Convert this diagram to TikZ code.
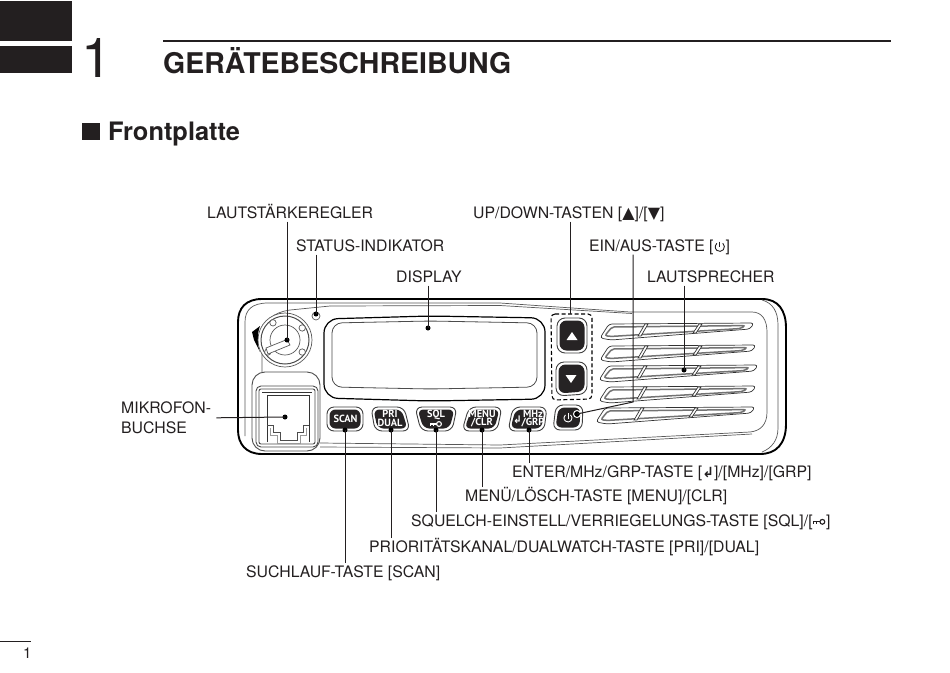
\documentclass[tikz,border=0pt]{standalone}
\usepackage{fontspec}
\setmainfont{TeX Gyre Heros}
\newfontfamily\symfont{DejaVu Sans}
\newfontfamily\btnfont{PT Sans}
\usetikzlibrary{calc}
\definecolor{ink}{HTML}{231F20}
\definecolor{fillk}{HTML}{262324}
\tikzset{
 lab/.style={anchor=west,yshift=-.8pt,inner xsep=0pt,inner ysep=3pt,text height=11pt,text depth=0pt,text=ink,font=\fontsize{15.8}{20}\selectfont},
 dotk/.style={circle,fill=black,inner sep=0pt,minimum size=5pt},
 conn/.style={draw=ink,line width=1pt},
 panel/.style={draw=black!65,line width=.7pt},
 body/.style={draw=black,line width=1.9pt},
 btnouter/.style={draw=black!75,fill=white,line width=.9pt,rounded corners=7pt},
 btninner/.style={fill=fillk,draw=none,rounded corners=6pt},
 btntext/.style={text=white,inner sep=0pt,align=center,font=\btnfont\bfseries\fontsize{10.4}{8.8}\selectfont},
 slot/.style={draw=black!80,line width=.7pt,rounded corners=3pt},
 slotin/.style={draw=black!55,line width=1.5pt,rounded corners=2pt},
}
% tl tr br bl top bottom
\newcommand{\rbtn}[6]{%
 \path[btnouter] (#1,#5)--(#2,#5)--(#3,#6)--(#4,#6)--cycle;
 \path[btninner] (#1+2.5,#5+2.5)--(#2-2.5,#5+2.5)--(#3-2.5,#6-2.5)--(#4+2.5,#6-2.5)--cycle;}
\newcommand{\keyicon}[3]{%
 \draw[#3,line width=1.1pt] (#1+8,#2) circle (2.4pt);
 \draw[#3,line width=1.2pt] (#1-1,#2)--(#1+5.6,#2);
 \draw[#3,line width=1pt] (#1-.5,#2)--(#1-.5,#2+2.4) (#1+2,#2)--(#1+2,#2+2.4);}
% x y radius colour
\newcommand{\powicon}[4]{%
 \draw[#4,line width=1pt] (#1,#2-#3-.6)--(#1,#2+.5);
 \draw[#4,line width=.9pt] ($(#1,#2)+(50:#3 pt)$) arc[start angle=50,end angle=-230,radius=#3 pt];}
\newcommand{\speakerslot}[3]{% x0 y0 width
 \begin{scope}[shift={(#1,#2)}]
  \path[slot] (8,1)--(#3+3,0)--(#3-1,6)--(10,17)--(-1,15)--cycle;
  \path[slotin] (11,4)--(#3-6,2.6)--(#3-10,5.5)--(9,13.5)--(4,12.5)--cycle;
  \draw[black!80,line width=.7pt,fill=white] (44,1)--(47,1)--(40,13)--(37,13)--cycle;
  \draw[black!80,line width=.7pt,fill=white] (98,1)--(101,1)--(95,10)--(92,10)--cycle;
 \end{scope}}
\begin{document}
\begin{tikzpicture}[x=1pt,y=-1pt]
\useasboundingbox (0,0) rectangle (950,672);
% page furniture
\fill[ink] (0,1) rectangle (72,41);
\fill[ink] (0,46) rectangle (72,73);
\node[anchor=base west,inner sep=0pt,text=ink,font=\fontsize{55}{55}\selectfont] (chapno) at (81,77) {1};
\draw[ink,line width=1.8pt] (163,41)--(891,41);
\node[anchor=base west,inner sep=0pt,text=ink,font=\bfseries\fontsize{28.5}{30}\selectfont] (title) at (163,73) {GERÄTEBESCHREIBUNG};
\fill[ink] (82,123) rectangle (100,140);
\node[anchor=base west,inner sep=0pt,text=ink,font=\bfseries\fontsize{25.4}{26}\selectfont] (section) at (108,140) {Frontplatte};
\draw[ink,line width=.8pt] (0,641)--(31,641);
\node[anchor=base west,inner sep=0pt,text=ink,font=\fontsize{15}{15}\selectfont] (pageno) at (23,658) {1};
% body
\path[body,fill=white] (262,299)--(762,299) .. controls (778,299) and (786,310) .. (786,328)
  -- (786,424) .. controls (786,444) and (776,454) .. (760,454) -- (262,454)
  .. controls (246,454) and (238,444) .. (238,430) -- (238,322) .. controls (238,308) and (246,299) .. (262,299) -- cycle;
% bezel lines
\draw[panel] (245,436) -- (245,322) .. controls (245,310) and (252,303) .. (268,303) -- (330,303) -- (500,303) -- (630,312) -- (752,312)
  .. controls (762,312) and (767,320) .. (767,332) -- (767,412) .. controls (767,425) and (760,431) .. (750,432) -- (500,445) -- (320,443);
\draw[panel] (330,306) -- (500,305.5) -- (632,313.5);
\draw[panel] (320,447) -- (500,448) -- (752,434);
\draw[panel] (762,300) .. controls (773,303) and (778,312) .. (778,325) -- (778,428) .. controls (778,440) and (772,448) .. (762,452);
\draw[panel] (262,372) -- (262,335) .. controls (263,320) and (275,312) .. (290,310) -- (330,306);
% wedge
\fill[black] (260,326) -- (252,332) -- (254,340) -- (260,352) .. controls (257,344) and (257,334) .. (260,326) -- cycle;
% knob
\draw[panel,fill=white] (285,340) circle (27pt);
\draw[black!70,line width=1pt,fill=white] (285,340) circle (24pt);
\draw[panel] (285,340) circle (15pt);
\foreach \a in {-35,35,125,215} {\draw[panel,fill=white] ($(285,340)+(\a:21pt)$) circle (3.2pt);}
\draw[panel,fill=white] (266,348)--(287,339.5)--(290,345)--(268,354)--cycle;
% microphone socket
\path[draw=black!70,line width=.9pt,fill=white,rounded corners=13pt] (252,372) rectangle (320,451);
\path[draw=black!70,line width=.9pt,rounded corners=5pt] (256,386) rectangle (318,447);
\path[draw=black!70,line width=.9pt,rounded corners=2pt] (259,389) rectangle (315,444);
\draw[black!80,line width=.9pt] (267,442)--(267,395)--(309,395)--(309,442);
\draw[black!80,line width=.9pt] (262,392)--(312,392);
\draw[black!70,line width=.9pt] (267,425)--(273,425)--(273,432)--(280,432)--(280,440)--(297,440)--(297,432)--(303,432)--(303,425)--(309,425);
\draw[black!40,line width=.9pt] (270,428)--(270,435)--(277,435)--(277,443)--(300,443)--(300,435)--(306,435)--(306,428);
% status LED
\draw[panel,fill=white] (316,316) circle (4pt);
% display
\path[draw=black,line width=1.2pt,rounded corners=14pt,fill=white] (324,319)--(430,316)--(545,318)--(545,399)--(430,401)--(324,398)--cycle;
\path[draw=black!70,line width=.8pt,rounded corners=10pt] (332,323)--(430,321)--(537,323)--(537,387)--(430,389)--(332,387)--cycle;
% keys on the lower row
\rbtn{327}{363}{363}{327}{407}{431}
\node[btntext] (tScan) at (345.5,418.5) {SCAN};
\rbtn{371}{404}{410}{375}{407}{431}
\node[btntext] (tPri) at (390,418.5) {PRI\\DUAL};
\rbtn{415}{457}{452}{421}{407}{431}
\node[btntext] (tSql) at (436,415) {SQL};
\keyicon{431}{424}{white}
\rbtn{469}{502}{497}{462}{407}{431}
\node[btntext] (tMenu) at (482,418.5) {MENU\\/CLR};
\rbtn{513}{547}{544}{508}{407}{431}
\node[btntext,anchor=west] (tEnterArrow) at (513,420) {\symfont ↲};
\node[btntext] (tEnter) at (533,418.5) {MHz\\/GRP};
\rbtn{556}{583}{582}{553}{405}{430}
\powicon{568}{418}{4}{white}
% up and down keys with dashed frame
\draw[black,line width=1.1pt,rounded corners=4pt,dash pattern=on 4pt off 2.5pt] (551,314)--(592,314)--(592,399)--(552,400)--cycle;
\path[btnouter,rounded corners=8pt] (557,318)--(587,318)--(587,353)--(557,353)--cycle;
\path[btninner,rounded corners=7pt] (559.5,320.5)--(584.5,320.5)--(584.5,350.5)--(559.5,350.5)--cycle;
\fill[white] (572,332)--(577.5,340)--(566.5,340)--cycle;
\path[btnouter,rounded corners=8pt] (556,362)--(587,362)--(587,394)--(556,396)--cycle;
\path[btninner,rounded corners=7pt] (558.5,364.5)--(584.5,364.5)--(584.5,391.5)--(558.5,393.5)--cycle;
\fill[white] (571,383)--(576.5,375)--(565.5,375)--cycle;
% speaker slots
\speakerslot{601}{323}{150}
\speakerslot{601}{345}{152}
\speakerslot{600}{365}{155}
\speakerslot{600}{386}{153}
\speakerslot{597}{407}{155}
% labels
\node[lab] (lLaut) at (207,212) {LAUTSTÄRKEREGLER};
\node[lab] (lStat) at (296,245) {STATUS-INDIKATOR};
\node[lab] (lDisp) at (396,276) {DISPLAY};
\node[lab] (lUp) at (473,212) {UP/DOWN-TASTEN [{\symfont\fontsize{16}{16}\selectfont ▲}]/[{\symfont\fontsize{16}{16}\selectfont ▼}]};
\node[lab] (lEin) at (589,245) {EIN/AUS-TASTE [};
\node[lab] (lEinEnd) at ([xshift=11.5pt,yshift=.8pt]lEin.east) {]};
\node[lab] (lSpk) at (647,276) {LAUTSPRECHER};
\node[lab,text height=,text depth=,align=left,inner ysep=0pt] (lMik) at (121,417) {MIKROFON-\\BUCHSE};
\node[lab] (lEnter) at (512,471) {ENTER/MHz/GRP-TASTE [{\symfont\bfseries\fontsize{14}{14}\selectfont ↲}]/[MHz]/[GRP]};
\node[lab] (lMenu) at (465,495) {MENÜ/LÖSCH-TASTE [MENU]/[CLR]};
\node[lab] (lSql) at (411,520) {SQUELCH-EINSTELL/VERRIEGELUNGS-TASTE [SQL]/[};
\node[lab] (lSqlEnd) at ([xshift=13pt,yshift=.8pt]lSql.east) {]};
\node[lab] (lPri) at (369,546) {PRIORITÄTSKANAL/DUALWATCH-TASTE [PRI]/[DUAL]};
\node[lab] (lScan) at (246,571) {SUCHLAUF-TASTE [SCAN]};
\path (lEin.east) ++(6,1) coordinate (iEin);
\path (lSql.east) ++(1.5,1) coordinate (iSql);
\begin{scope}[shift={(iEin)}]\powicon{0}{0}{4.6}{ink}\end{scope}
\begin{scope}[shift={(iSql)}]\keyicon{0}{0}{ink}\end{scope}
% dots
\node[dotk] (dKnob) at (287,340) {};
\node[dotk] (dStat) at (316,314) {};
\node[dotk] (dDisp) at (428,328) {};
\coordinate (dUp) at (570,314);
\coordinate (cEin) at (633,402);
\node[dotk,draw=white,line width=1pt,minimum size=7pt] (dPow) at (577,414) {};
\node[dotk] (dSpk) at (684,370) {};
\node[dotk] (dMik) at (285,417) {};
\node[dotk] (dScan) at (345,430) {};
\node[dotk] (dPri) at (391,430) {};
\node[dotk] (dSql) at (436,430) {};
\node[dotk] (dMenu) at (482,430) {};
\node[dotk] (dEnter) at (529,430) {};
% connectors
\draw[conn] (lLaut.south -| dKnob) -- (dKnob.center);
\draw[conn] (lStat.south -| dStat) -- (dStat.center);
\draw[conn] (lDisp.south -| dDisp) -- (dDisp.center);
\draw[conn] (lUp.south -| dUp) -- (dUp);
\draw[conn] (lEin.south -| cEin) -- (cEin) -- (dPow.center);
\draw[conn] (lSpk.south -| dSpk) -- (dSpk.center);
\draw[conn] (lMik.east) ++(5,0) -- (dMik.center);
\draw[conn] (lScan.north -| dScan) -- (dScan.center);
\draw[conn] (lPri.north -| dPri) -- (dPri.center);
\draw[conn] (lSql.north -| dSql) -- (dSql.center);
\draw[conn] (lMenu.north -| dMenu) -- (dMenu.center);
\draw[conn] (lEnter.north -| dEnter) -- (dEnter.center);
\end{tikzpicture}
\end{document}
